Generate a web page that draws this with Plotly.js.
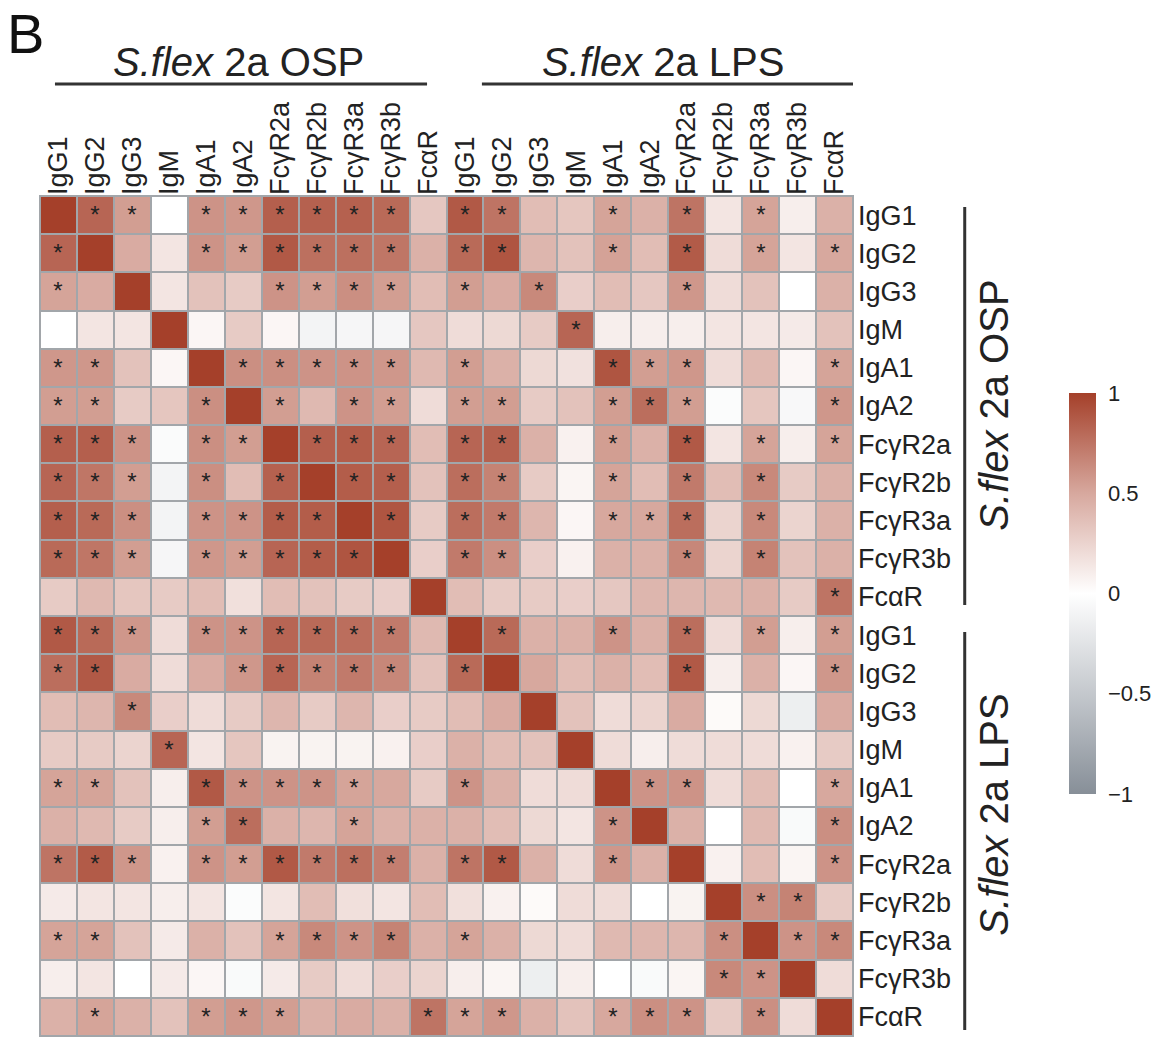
<!DOCTYPE html>
<html>
<head>
<meta charset="utf-8">
<script src="https://cdn.plot.ly/plotly-3.0.1.min.js"></script>
<style>html,body{margin:0;padding:0;background:#fff;}#chart{width:1162px;height:1046px;}</style>
</head>
<body>
<div id="chart"></div>
<script>
// ---- data ----
const features = ['IgG1','IgG2','IgG3','IgM','IgA1','IgA2','FcγR2a','FcγR2b','FcγR3a','FcγR3b','FcαR'];
const groups = ['<i>S.flex</i> 2a OSP', '<i>S.flex</i> 2a LPS'];
const colorbarTicks = [1, 0.5, 0, -0.5, -1];
const colorbarTickText = ['1', '0.5', '0', '\u22120.5', '\u22121'];

// correlation values, rows top to bottom (OSP block then LPS block), columns left to right
const corr = [
  [1.00,0.82,0.55,0.00,0.60,0.58,0.85,0.84,0.84,0.80,0.32, 0.88,0.75,0.38,0.33,0.52,0.45,0.75,0.15,0.52,0.10,0.45],
  [0.82,1.00,0.48,0.15,0.60,0.55,0.88,0.77,0.77,0.74,0.45, 0.80,0.90,0.42,0.35,0.53,0.38,0.87,0.20,0.52,0.15,0.50],
  [0.52,0.48,1.00,0.15,0.35,0.30,0.60,0.55,0.62,0.55,0.38, 0.55,0.48,0.65,0.28,0.38,0.32,0.58,0.20,0.35,0.00,0.45],
  [0.00,0.15,0.15,1.00,0.05,0.30,0.05,-0.10,-0.08,-0.08,0.32, 0.20,0.22,0.30,0.82,0.10,0.10,0.10,0.15,0.15,0.12,0.35],
  [0.58,0.58,0.35,0.05,1.00,0.62,0.62,0.60,0.60,0.58,0.40, 0.55,0.45,0.22,0.17,0.90,0.55,0.58,0.20,0.40,0.05,0.52],
  [0.55,0.55,0.30,0.33,0.62,1.00,0.55,0.40,0.60,0.55,0.20, 0.55,0.55,0.30,0.35,0.55,0.78,0.55,-0.03,0.33,-0.06,0.58],
  [0.85,0.85,0.60,-0.04,0.62,0.55,1.00,0.85,0.86,0.82,0.38, 0.82,0.84,0.45,0.08,0.55,0.45,0.88,0.15,0.52,0.10,0.52],
  [0.82,0.74,0.55,-0.10,0.62,0.38,0.84,1.00,0.86,0.85,0.35, 0.78,0.68,0.30,0.06,0.52,0.38,0.72,0.38,0.65,0.30,0.45],
  [0.85,0.80,0.62,-0.10,0.60,0.60,0.86,0.86,1.00,0.90,0.30, 0.78,0.72,0.42,0.05,0.50,0.50,0.78,0.25,0.65,0.25,0.45],
  [0.80,0.74,0.55,-0.08,0.58,0.55,0.82,0.86,0.90,1.00,0.28, 0.72,0.62,0.28,0.08,0.45,0.45,0.66,0.25,0.68,0.35,0.45],
  [0.30,0.40,0.33,0.30,0.38,0.18,0.38,0.35,0.30,0.28,1.00, 0.38,0.30,0.30,0.28,0.32,0.42,0.42,0.40,0.45,0.30,0.75],
  [0.88,0.80,0.58,0.20,0.60,0.60,0.82,0.80,0.78,0.72,0.40, 1.00,0.80,0.45,0.45,0.60,0.45,0.78,0.20,0.55,0.10,0.55],
  [0.78,0.88,0.48,0.20,0.48,0.58,0.82,0.68,0.72,0.66,0.35, 0.80,1.00,0.50,0.38,0.45,0.38,0.88,0.10,0.45,0.05,0.58],
  [0.38,0.42,0.65,0.28,0.20,0.30,0.42,0.30,0.42,0.28,0.30, 0.38,0.48,1.00,0.35,0.20,0.25,0.48,0.03,0.22,-0.15,0.48],
  [0.30,0.30,0.25,0.82,0.15,0.33,0.07,0.07,0.07,0.08,0.28, 0.45,0.38,0.35,1.00,0.20,0.10,0.20,0.20,0.20,0.08,0.30],
  [0.52,0.52,0.35,0.10,0.88,0.60,0.60,0.60,0.52,0.50,0.30, 0.60,0.45,0.20,0.20,1.00,0.60,0.60,0.20,0.38,0.00,0.50],
  [0.45,0.40,0.30,0.10,0.55,0.78,0.45,0.42,0.52,0.45,0.45, 0.45,0.38,0.22,0.15,0.60,1.00,0.45,0.00,0.40,-0.05,0.62],
  [0.75,0.87,0.58,0.08,0.60,0.55,0.88,0.72,0.77,0.70,0.45, 0.75,0.88,0.45,0.20,0.58,0.45,1.00,0.08,0.38,0.06,0.60],
  [0.12,0.15,0.15,0.10,0.15,-0.03,0.15,0.38,0.18,0.15,0.38, 0.18,0.08,0.03,0.20,0.20,0.00,0.07,1.00,0.62,0.68,0.30],
  [0.52,0.52,0.35,0.12,0.45,0.35,0.52,0.65,0.60,0.68,0.45, 0.52,0.45,0.22,0.20,0.40,0.42,0.42,0.62,1.00,0.60,0.65],
  [0.10,0.15,0.00,0.12,0.05,-0.05,0.12,0.30,0.20,0.28,0.25, 0.10,0.06,-0.15,0.10,0.00,-0.05,0.06,0.65,0.60,1.00,0.20],
  [0.45,0.52,0.45,0.35,0.55,0.58,0.55,0.45,0.48,0.45,0.75, 0.52,0.58,0.45,0.35,0.50,0.62,0.60,0.30,0.62,0.20,1.00]
];

// significance marks: '*' significant, '.' not
const stars = [
  '.**.******. **..*.*.*..',
  '*...******. **..*.*.*.*',
  '*.....****. *.*...*....',
  '........... ...*.......',
  '**...*****. *...***...*',
  '**..*.*.**. **..***...*',
  '***.**.***. **..*.*.*.*',
  '***.*.*.**. **..*.*.*..',
  '***.****.*. **..***.*..',
  '***.*****.. **....*.*..',
  '........... ..........*',
  '***.******. .*..*.*.*.*',
  '**...*****. *.....*...*',
  '..*........ ...........',
  '...*....... ...........',
  '**..*****.. *....**...*',
  '....**..*.. ....*.....*',
  '***.******. **..*.....*',
  '........... ........**.',
  '**....****. *......*.**',
  '........... .......**..',
  '.*..***...* **..***.*..'
];

// ---- build ----
const labels = features.concat(features);
const n = labels.length;
const idx = labels.map((_, i) => i);
const textGrid = stars.map(s => s.replace(' ', '').split('').map(c => c === '*' ? '*' : ''));

const font = 'Liberation Sans, Arial, sans-serif';

const trace = {
  type: 'heatmap',
  z: corr,
  x: idx,
  y: idx,
  text: textGrid,
  texttemplate: '%{text}',
  textfont: {family: font, size: 24, color: '#222'},
  zmin: -1, zmax: 1,
  xgap: 2, ygap: 2,
  colorscale: [
    [0, '#878f98'],
    [0.25, '#c4c8cd'],
    [0.5, '#ffffff'],
    [0.75, '#d7a89e'],
    [1, '#a5402a']
  ],
  hoverinfo: 'skip',
  colorbar: {
    thickness: 27,
    len: 401, lenmode: 'pixels',
    x: 1.266, xanchor: 'left', xpad: 0,
    y: 0.527, yanchor: 'middle', ypad: 0,
    outlinewidth: 0,
    tickvals: colorbarTicks,
    ticktext: colorbarTickText,
    ticks: 'outside', ticklen: 8, tickcolor: 'rgba(0,0,0,0)',
    tickfont: {family: font, size: 22, color: '#222'}
  }
};

const px = v => (v - 40) / 815;
const py = v => (1036 - v) / 840;

const layout = {
  width: 1162, height: 1046,
  margin: {l: 40, r: 307, t: 196, b: 10},
  paper_bgcolor: '#ffffff',
  plot_bgcolor: '#a2a6aa',
  font: {family: font, color: '#222'},
  xaxis: {
    side: 'top', range: [-0.5, n - 0.5],
    tickvals: idx, ticktext: labels, tickangle: -90,
    tickfont: {family: font, size: 27, color: '#222'},
    showgrid: false, zeroline: false, ticks: '', fixedrange: true
  },
  yaxis: {
    side: 'right', range: [n - 0.5, -0.5],
    tickvals: idx, ticktext: labels,
    tickfont: {family: font, size: 27, color: '#222'},
    ticklabelstandoff: 4,
    showgrid: false, zeroline: false, ticks: '', fixedrange: true
  },
  shapes: [
    {type: 'rect', xref: 'paper', yref: 'paper', x0: 0, x1: 1, y0: 0, y1: 1, line: {color: '#a2a6aa', width: 2}},
    {type: 'line', xref: 'paper', yref: 'paper', x0: px(55), x1: px(428), y0: py(84), y1: py(84), line: {color: '#333', width: 3}},
    {type: 'line', xref: 'paper', yref: 'paper', x0: px(483), x1: px(855), y0: py(84), y1: py(84), line: {color: '#333', width: 3}},
    {type: 'line', xref: 'paper', yref: 'paper', x0: px(967), x1: px(967), y0: py(207), y1: py(605), line: {color: '#333', width: 3}},
    {type: 'line', xref: 'paper', yref: 'paper', x0: px(967), x1: px(967), y0: py(632), y1: py(1030), line: {color: '#333', width: 3}}
  ],
  annotations: [
    {text: 'B', xref: 'paper', yref: 'paper', x: px(25), y: py(0), showarrow: false, xanchor: 'center', yanchor: 'top', font: {family: font, size: 56, color: '#111'}},
    {text: groups[0], xref: 'paper', yref: 'paper', x: px(239), y: py(62), showarrow: false, xanchor: 'center', yanchor: 'middle', font: {family: font, size: 40, color: '#222'}},
    {text: groups[1], xref: 'paper', yref: 'paper', x: px(665), y: py(62), showarrow: false, xanchor: 'center', yanchor: 'middle', font: {family: font, size: 40, color: '#222'}},
    {text: groups[0], xref: 'paper', yref: 'paper', x: px(996), y: py(405), textangle: -90, showarrow: false, xanchor: 'center', yanchor: 'middle', font: {family: font, size: 40, color: '#222'}},
    {text: groups[1], xref: 'paper', yref: 'paper', x: px(996), y: py(815), textangle: -90, showarrow: false, xanchor: 'center', yanchor: 'middle', font: {family: font, size: 40, color: '#222'}}
  ]
};

Plotly.newPlot('chart', [trace], layout, {displayModeBar: false, staticPlot: true});
</script>
</body>
</html>
